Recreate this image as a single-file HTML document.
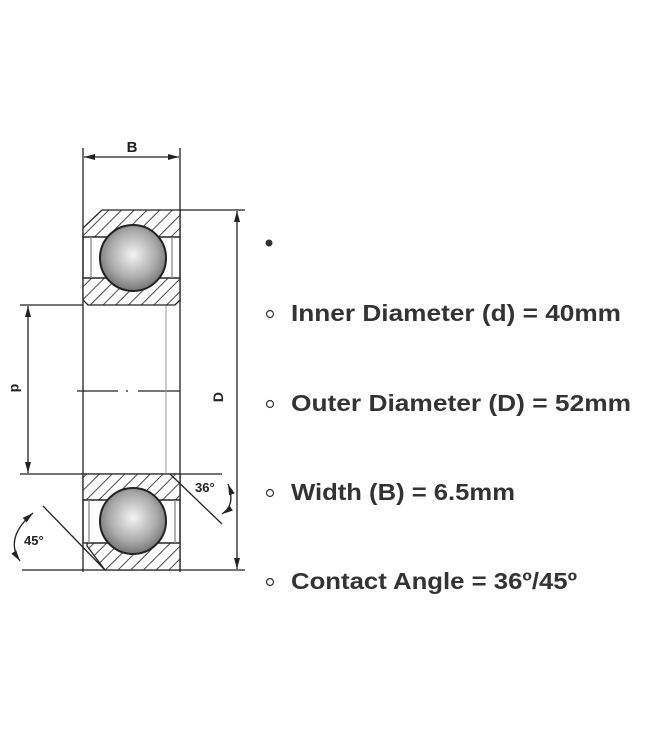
<!DOCTYPE html>
<html><head><style>body{margin:0;background:#fff}svg{display:block}</style></head><body>
<svg width="650" height="750" viewBox="0 0 650 750" xmlns="http://www.w3.org/2000/svg">
<defs>
<pattern id="h" width="9" height="9" patternUnits="userSpaceOnUse" patternTransform="rotate(45)">
<rect width="9" height="9" fill="#fff"/><line x1="0" y1="0" x2="0" y2="9" stroke="#333" stroke-width="1.8"/></pattern>
<radialGradient id="g" cx="0.5" cy="0.45" r="0.6"><stop offset="0" stop-color="#f4f4f4"/><stop offset="0.6" stop-color="#aaa"/><stop offset="1" stop-color="#666"/></radialGradient>
<marker id="a" markerWidth="12" markerHeight="8" refX="11" refY="4" orient="auto-start-reverse" markerUnits="userSpaceOnUse"><path d="M0,1 L11,4 L0,7 Z" fill="#222"/></marker>
</defs>
<g stroke="#222" stroke-width="1.3" fill="none">
<line x1="83" y1="148" x2="83" y2="572"/>
<line x1="180" y1="148" x2="180" y2="572"/>
<line x1="84" y1="157" x2="179" y2="157" marker-start="url(#a)" marker-end="url(#a)"/>
<line x1="180" y1="210" x2="245" y2="210"/>
<line x1="20" y1="305" x2="83" y2="305"/>
<line x1="20" y1="474" x2="222" y2="474"/>
<line x1="22" y1="570" x2="245" y2="570"/>
<line x1="237" y1="211" x2="237" y2="569" marker-start="url(#a)" marker-end="url(#a)"/>
<line x1="28" y1="306" x2="28" y2="473" marker-start="url(#a)" marker-end="url(#a)"/>
<line x1="77" y1="391" x2="118" y2="391"/><line x1="126" y1="391" x2="128" y2="391"/><line x1="138" y1="391" x2="180" y2="391"/>
<line x1="166" y1="305" x2="166" y2="474" stroke="#999" stroke-width="1"/>
<path d="M102,210 L180,210 L180,237 L83,237 L83,228 Z" fill="url(#h)"/>
<path d="M83,278 L180,278 L180,300 L175,305 L88,305 L83,300 Z" fill="url(#h)"/>
<rect x="83" y="237" width="97" height="41"/>
<line x1="91" y1="237" x2="91" y2="278" stroke="#888"/><line x1="172" y1="237" x2="172" y2="278" stroke="#888"/>
<path d="M83,474 L180,474 L180,500 L83,500 Z" fill="url(#h)"/>
<path d="M87,543 L180,543 L180,570 L105,570 L87,546 Z" fill="url(#h)"/>
<rect x="83" y="500" width="97" height="43"/>
<line x1="89" y1="500" x2="89" y2="543" stroke="#888"/><line x1="175" y1="500" x2="175" y2="543" stroke="#888"/>
<line x1="170" y1="474" x2="222" y2="524"/>
<line x1="43" y1="506" x2="105" y2="570"/>
<path d="M228,484 Q236,505 222,514" marker-start="url(#a)" marker-end="url(#a)"/>
<path d="M33,513 Q4,538 20,561" marker-start="url(#a)" marker-end="url(#a)"/>
</g>
<circle cx="133" cy="258" r="33" fill="url(#g)" stroke="#222" stroke-width="2"/>
<circle cx="133" cy="521" r="33" fill="url(#g)" stroke="#222" stroke-width="2"/>
<g font-family="Liberation Sans, sans-serif" font-weight="bold" fill="#222">
<text x="132" y="152" font-size="15" text-anchor="middle">B</text>
<text x="195" y="492" font-size="13">36°</text>
<text x="24" y="545" font-size="13">45°</text>
<text font-size="14" transform="translate(11,388) rotate(90)" text-anchor="middle">d</text>
<text font-size="14" transform="translate(223,397) rotate(-90)" text-anchor="middle">D</text>
</g>
<circle cx="269" cy="243" r="3.5" fill="#333"/>
<g fill="none" stroke="#333" stroke-width="1.2">
<circle cx="270" cy="314" r="3.5"/><circle cx="270" cy="404" r="3.5"/><circle cx="270" cy="493" r="3.5"/><circle cx="270" cy="582" r="3.5"/>
</g>
<g font-family="Liberation Sans, sans-serif" font-weight="bold" font-size="23" fill="#333">
<text x="291" y="321" textLength="330" lengthAdjust="spacingAndGlyphs">Inner Diameter (d) = 40mm</text>
<text x="291" y="411" textLength="340" lengthAdjust="spacingAndGlyphs">Outer Diameter (D) = 52mm</text>
<text x="291" y="500" textLength="224" lengthAdjust="spacingAndGlyphs">Width (B) = 6.5mm</text>
<text x="291" y="589" textLength="286" lengthAdjust="spacingAndGlyphs">Contact Angle = 36º/45º</text>
</g>
</svg>
</body></html>
